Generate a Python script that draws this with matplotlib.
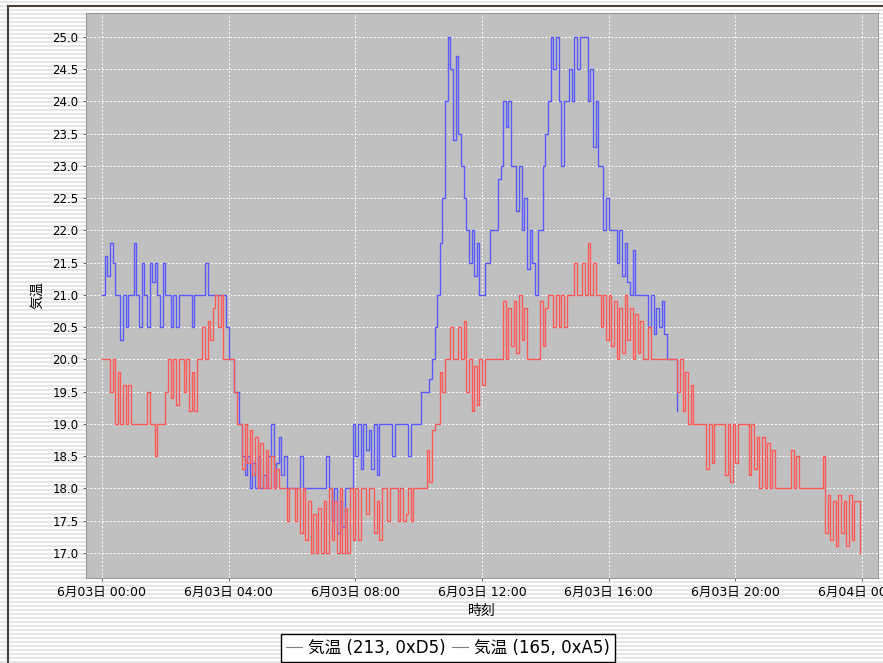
import numpy as np
import matplotlib
matplotlib.use("Agg")
import matplotlib.pyplot as plt
from matplotlib.lines import Line2D

plt.rcParams['font.family'] = ['DejaVu Sans', 'Noto Sans CJK JP']

# 5分ごとの気温 (00:00 から)
blue = [
    21.0, 21.6, 21.3, 21.8, 21.5, 21.0, 21.0, 20.3, 21.0, 20.5, 21.0, 21.0,  # 00
    21.8, 21.0, 20.5, 21.5, 21.0, 20.5, 21.5, 21.2, 21.5, 21.0, 20.5, 21.5,  # 01
    21.0, 21.0, 20.5, 21.0, 20.5, 21.0, 21.0, 21.0, 21.0, 21.0, 20.5, 21.0,  # 02
    21.0, 21.0, 21.0, 21.5, 21.0, 21.0, 21.0, 21.0, 21.0, 21.0, 21.0, 20.5,  # 03
    20.0, 20.0, 19.5, 19.5, 19.0, 18.5, 18.2, 18.5, 18.0, 18.4, 18.0, 18.5,  # 04
    18.0, 18.2, 18.0, 18.5, 19.0, 18.0, 18.4, 18.8, 18.2, 18.5, 18.0, 18.0,  # 05
    18.0, 18.0, 18.0, 18.5, 18.0, 18.0, 18.0, 18.0, 18.0, 18.0, 18.0, 18.0,  # 06
    18.0, 18.5, 18.0, 17.5, 18.0, 17.3, 17.8, 17.4, 18.0, 18.0, 18.0, 19.0,  # 07
    18.5, 19.0, 18.3, 19.0, 18.6, 18.9, 18.3, 19.0, 18.2, 19.0, 19.0, 19.0,  # 08
    19.0, 19.0, 18.5, 19.0, 19.0, 19.0, 19.0, 19.0, 18.5, 19.0, 19.0, 19.0,  # 09
    19.0, 19.5, 19.5, 19.5, 19.7, 20.0, 20.5, 21.0, 21.8, 22.5, 24.0, 25.0,  # 10
    24.5, 23.4, 24.7, 23.5, 23.0, 22.5, 22.0, 21.5, 22.0, 21.3, 21.8, 21.0,  # 11
    21.0, 21.5, 21.5, 22.0, 22.0, 22.0, 22.8, 23.0, 24.0, 23.6, 24.0, 23.0,  # 12
    23.0, 22.3, 23.0, 22.0, 22.5, 21.4, 22.0, 21.5, 21.0, 22.0, 22.0, 23.0,  # 13
    23.5, 24.0, 25.0, 24.5, 25.0, 24.0, 23.0, 24.0, 24.0, 24.5, 24.0, 25.0,  # 14
    24.5, 25.0, 25.0, 25.0, 24.0, 24.5, 23.3, 24.0, 23.0, 23.0, 22.0, 22.5,  # 15
    22.0, 22.0, 22.0, 21.5, 22.0, 21.3, 21.8, 21.2, 21.0, 21.7, 21.0, 21.0,  # 16
    21.0, 21.0, 21.0, 20.5, 21.0, 20.4, 20.8, 20.5, 20.9, 20.4, 20.0, 20.0,  # 17
    20.0, 20.0, 19.2,                                                        # 18
]

red = [
    20.0, 20.0, 20.0, 19.5, 20.0, 19.0, 19.8, 19.0, 19.6, 19.0, 19.6, 19.0,  # 00
    19.0, 19.0, 19.0, 19.0, 19.0, 19.5, 19.0, 19.0, 18.5, 19.0, 19.0, 19.0,  # 01
    19.5, 20.0, 19.4, 20.0, 19.3, 20.0, 20.0, 19.5, 20.0, 19.2, 19.8, 19.2,  # 02
    20.0, 20.0, 20.5, 20.0, 20.6, 20.3, 20.8, 21.0, 20.5, 21.0, 20.0, 20.0,  # 03
    20.0, 20.0, 19.5, 19.0, 19.0, 18.3, 19.0, 18.4, 18.9, 18.2, 18.8, 18.0,  # 04
    18.7, 18.0, 18.6, 18.0, 18.5, 18.0, 18.3, 18.0, 18.0, 18.0, 17.5, 18.0,  # 05
    18.0, 17.5, 18.0, 17.3, 18.0, 17.2, 17.8, 17.0, 17.6, 17.0, 17.7, 17.0,  # 06
    17.8, 17.0, 18.0, 17.2, 17.8, 17.0, 18.0, 17.0, 17.7, 17.0, 18.0, 17.2,  # 07
    18.0, 17.2, 18.0, 18.0, 17.6, 18.0, 18.0, 17.3, 17.8, 17.2, 18.0, 18.0,  # 08
    17.5, 18.0, 18.0, 18.0, 17.5, 18.0, 17.5, 17.6, 18.0, 17.5, 18.0, 18.0,  # 09
    18.0, 18.0, 18.0, 18.6, 18.1, 18.9, 19.0, 19.0, 19.8, 19.5, 20.0, 20.0,  # 10
    20.5, 20.0, 20.0, 20.5, 20.0, 20.6, 19.5, 20.0, 19.2, 19.9, 19.3, 20.0,  # 11
    19.6, 20.0, 20.0, 20.0, 20.0, 20.0, 20.0, 20.0, 20.9, 20.0, 20.8, 20.2,  # 12
    20.9, 20.1, 21.0, 20.3, 20.8, 20.0, 20.0, 20.0, 20.0, 20.0, 20.9, 20.2,  # 13
    20.8, 21.0, 21.0, 20.5, 21.0, 20.5, 21.0, 20.5, 21.0, 21.0, 21.0, 21.5,  # 14
    21.0, 21.0, 21.5, 21.0, 21.8, 21.0, 21.5, 21.0, 21.0, 20.5, 21.0, 20.3,  # 15
    21.0, 20.2, 20.9, 20.0, 20.8, 20.1, 21.0, 20.3, 20.8, 20.0, 20.7, 20.1,  # 16
    20.6, 20.0, 20.0, 20.5, 20.0, 20.0, 20.0, 20.0, 20.0, 20.0, 20.0, 20.0,  # 17
    20.0, 20.0, 19.5, 20.0, 19.2, 19.8, 19.0, 19.6, 19.0, 19.0, 19.0, 19.0,  # 18
    19.0, 18.3, 19.0, 18.4, 19.0, 19.0, 19.0, 19.0, 18.2, 19.0, 18.1, 19.0,  # 19
    18.4, 19.0, 19.0, 19.0, 19.0, 18.2, 19.0, 18.3, 18.8, 18.0, 18.8, 18.0,  # 20
    18.7, 18.0, 18.6, 18.0, 18.0, 18.0, 18.0, 18.0, 18.0, 18.6, 18.0, 18.5,  # 21
    18.0, 18.0, 18.0, 18.0, 18.0, 18.0, 18.0, 18.0, 18.0, 18.5, 17.3, 17.9,  # 22
    17.2, 17.8, 17.1, 17.9, 17.3, 17.8, 17.1, 17.9, 17.2, 17.8, 17.8, 17.0,  # 23
]

series_names = ["気温 (213, 0xD5)", "気温 (165, 0xA5)"]
x_ticks = [0, 4, 8, 12, 16, 20, 24]
x_labels = ["6月03日 00:00", "6月03日 04:00", "6月03日 08:00", "6月03日 12:00",
            "6月03日 16:00", "6月03日 20:00", "6月04日 00:00"]
y_ticks = [17.0, 17.5, 18.0, 18.5, 19.0, 19.5, 20.0, 20.5, 21.0, 21.5,
           22.0, 22.5, 23.0, 23.5, 24.0, 24.5, 25.0]

W, H = 883, 663
fig = plt.figure(figsize=(W / 100, H / 100), dpi=100)
fig.patch.set_facecolor("white")

# 背景のストライプと枠
bg = fig.add_axes([0, 0, 1, 1], zorder=-5)
bg.set_xlim(0, W)
bg.set_ylim(H, 0)
bg.axis("off")
for yy in range(1, H, 4):
    bg.axhline(yy + 0.5, color="#e6e6e6", lw=1.44)
bg.plot([8, 8], [6, H], color="#4a4038", lw=1.5)
bg.plot([8, W], [6, 6], color="#4a4038", lw=1.5)

ax = fig.add_axes([86 / W, 1 - 578 / H, 792 / W, 565 / H])
ax.set_facecolor("#c0c0c0")

tb = np.arange(len(blue)) * 5 / 60
tr = np.arange(len(red)) * 5 / 60
ax.plot(tb, blue, color="#5a5aff", lw=1.0, drawstyle="steps-post")
ax.plot(tr, red, color="#ff5a5a", lw=1.0, drawstyle="steps-post")

ax.set_xlim(-0.505, 24.5)
ax.set_ylim(16.61, 25.37)
ax.set_xticks(x_ticks)
ax.set_xticklabels(x_labels)
ax.set_yticks(y_ticks)
ax.set_yticklabels(["%.1f" % v for v in y_ticks])
ax.tick_params(labelsize=8.5, length=2.5, width=0.6, color="#555555", pad=3)
ax.tick_params(axis="x", labelsize=9)
ax.grid(True, color="white", ls=(0, (2, 2)), lw=0.7)
for s in ax.spines.values():
    s.set_color("#8a8a8a")
    s.set_linewidth(0.6)

ax.set_xlabel("時刻", fontsize=10, labelpad=4)
ax.set_ylabel("気温", fontsize=10, labelpad=6)

handles = [Line2D([], [], color="#808080", lw=0.8) for _ in series_names]
leg = fig.legend(handles, series_names, loc="upper center",
                 bbox_to_anchor=(448 / W, 1 - 634 / H), ncol=2,
                 fontsize=12, frameon=True, fancybox=False, framealpha=1,
                 edgecolor="black", handlelength=1.0, handletextpad=0.35,
                 columnspacing=0.35, borderpad=0.3, borderaxespad=0)
leg.get_frame().set_linewidth(1.0)

fig.savefig("out.png", dpi=100)
